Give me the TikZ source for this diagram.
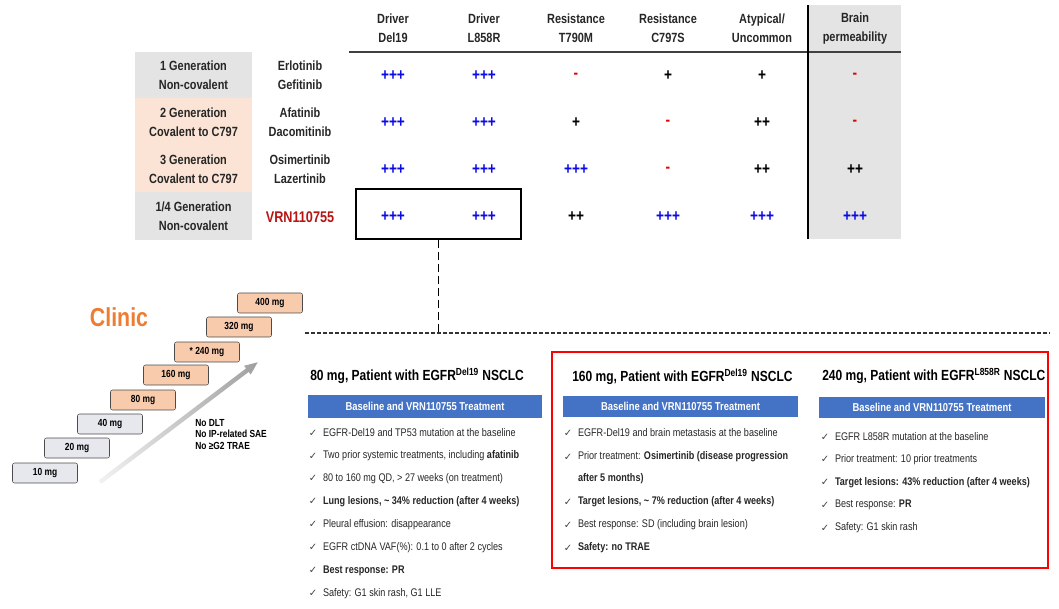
\documentclass[tikz,border=0pt]{standalone}
\usepackage{fontspec}
\setmainfont{Liberation Sans}[FakeStretch=0.82]
\newfontfamily\symfont{DejaVu Sans}
\usetikzlibrary{arrows.meta}
\usetikzlibrary{positioning}
\definecolor{mblue}{HTML}{0A0AE6}
\definecolor{mred}{HTML}{E60000}
\definecolor{vred}{HTML}{B81414}
\definecolor{mgray}{HTML}{E4E4E4}
\definecolor{mpeach}{HTML}{FBE4D5}
\definecolor{mstep}{HTML}{F8CBAD}
\definecolor{mstepgray}{HTML}{E6E8EE}
\definecolor{morange}{HTML}{EC7D32}
\definecolor{mbar}{HTML}{4472C4}
\newcommand{\tick}{{\symfont ✓}}

\tikzset{
  hdr/.style={font=\bfseries\fontsize{10}{14}\selectfont, align=center, inner sep=0, text=black!85},
  effthree/.style={font=\bfseries\fontsize{12.5}{14}\selectfont, text=mblue, inner sep=0, node contents={+++}},
  efftwo/.style={font=\bfseries\fontsize{12.5}{14}\selectfont, text=black, inner sep=0, node contents={++}},
  effone/.style={font=\bfseries\fontsize{12.5}{14}\selectfont, text=black, inner sep=0, node contents={+}},
  effnone/.style={font=\bfseries\fontsize{12.5}{14}\selectfont, text=mred, inner sep=0, node contents={-}},
  dose/.style={draw=gray!60!black, rounded corners=1.5pt, minimum width=48.75pt, minimum height=15pt,
    inner sep=0, font=\bfseries\fontsize{7.7}{9}\selectfont},
  dosegray/.style={dose, fill=mstepgray},
  dosepeach/.style={dose, fill=mstep},
  ptitle/.style={font=\bfseries\fontsize{11}{13}\selectfont, anchor=west, inner sep=0},
  pbar/.style={fill=mbar, text=white, font=\bfseries\fontsize{8.6}{10}\selectfont, minimum height=15.75pt, inner sep=0},
  tickmark/.style={font=\fontsize{7.5}{9}\selectfont, text=black!75, inner sep=0},
  item/.style={font=\fontsize{8.3}{10}\selectfont, text=black!85, inner sep=0}
}

\begin{document}
\begin{tikzpicture}[x=0.75pt, y=-0.75pt]
      \useasboundingbox (0,0) rectangle (1059,609);

      \fill [mgray] (135,52) rectangle (252,98);
      \fill [mpeach] (135,98) rectangle (252,192);
      \fill [mgray] (135,192) rectangle (252,240);
      \fill [mgray] (808,5) rectangle (901,239);
      \draw [line width=1.5pt, black!75] (349,52) -- (901,52);
      \draw [line width=0.8pt] (808,5) -- (808,239);

      \node [hdr] (hdel) at (393,28.5) {Driver\\Del19};
      \node [hdr] (hlr) at (484,28.5) {Driver\\L858R};
      \node [hdr] (htm) at (576,28.5) {Resistance\\T790M};
      \node [hdr] (hcs) at (668,28.5) {Resistance\\C797S};
      \node [hdr] (hat) at (762,28.5) {Atypical/\\Uncommon};
      \node [hdr] (hbr) at (855,28.5) {Brain\\permeability};

      \node [hdr] (gen1) at (193.5,75) {1 Generation\\Non-covalent};
      \node [hdr] (gen2) at (193.5,122) {2 Generation\\Covalent to C797};
      \node [hdr] (gen3) at (193.5,169) {3 Generation\\Covalent to C797};
      \node [hdr] (gen4) at (193.5,216) {1/4 Generation\\Non-covalent};

      \node [hdr] (drug1) at (300,75) {Erlotinib\\Gefitinib};
      \node [hdr] (drug2) at (300,122) {Afatinib\\Dacomitinib};
      \node [hdr] (drug3) at (300,169) {Osimertinib\\Lazertinib};
      \node [hdr, text=vred, font=\bfseries\fontsize{11.6}{14}\selectfont] (drug4) at (300,217) {VRN110755};

      \foreach \x/\s [count=\c] in {393/effthree, 484/effthree, 576/effnone, 668/effone, 762/effone, 855/effnone}
        \node (ra\c) at (\x,76) [\s];
      \foreach \x/\s [count=\c] in {393/effthree, 484/effthree, 576/effone, 668/effnone, 762/efftwo, 855/effnone}
        \node (rb\c) at (\x,123) [\s];
      \foreach \x/\s [count=\c] in {393/effthree, 484/effthree, 576/effthree, 668/effnone, 762/efftwo, 855/efftwo}
        \node (rc\c) at (\x,170) [\s];
      \foreach \x/\s [count=\c] in {393/effthree, 484/effthree, 576/efftwo, 668/effthree, 762/effthree, 855/effthree}
        \node (rd\c) at (\x,217) [\s];

      \node [draw, line width=1.2pt, minimum width=123.75pt, minimum height=37.5pt, inner sep=0] (vrnbox) at (438.5,214) {};
      \coordinate (dashl) at (305,333);
      \coordinate (dashr) at (1050,333);
      \coordinate (split) at (vrnbox.south |- dashl);
      \draw [dash pattern=on 6pt off 3pt, line width=0.8pt] (vrnbox.south) -- (split);
      \draw [dash pattern=on 3pt off 1.5pt, line width=0.8pt, black!80] (dashl) -- (dashr);

      \node [font=\bfseries\fontsize{19.5}{22}\selectfont, text=morange] (clinic) at (119,317) {Clinic};

      \begin{scope}[shift={(100,482)}, rotate=37.2]
        \shade [left color=gray!10, right color=gray!75] (0,-2.2) -- (185,-2.2) -- (185,-5.5) -- (198,0)
          -- (185,5.5) -- (185,2.2) -- (0,2.2) -- cycle;
      \end{scope}

      \foreach \d/\x/\y/\s [count=\k] in {10 mg/45/473/dosegray, 20 mg/77/448/dosegray, 40 mg/110/424/dosegray,
          80 mg/143/400/dosepeach, 160 mg/176/375/dosepeach, * 240 mg/207/352/dosepeach,
          320 mg/239/327/dosepeach, 400 mg/270/303/dosepeach}
        \node [\s] (step\k) at (\x,\y) {\d};

      \node [anchor=north west, align=left, inner sep=0, font=\bfseries\fontsize{7.7}{8.6}\selectfont] (safety) at (195,419)
        {No DLT\\No IP-related SAE\\No ≥G2 TRAE};

      \node [ptitle] (pta) at (310,376) {80 mg, Patient with EGFR\textsuperscript{Del19} NSCLC};
      \node [pbar, minimum width=175.5pt, minimum height=17.25pt] (bara) at (425,406.5) {Baseline and VRN110755 Treatment};
      \foreach \t [count=\i] in {{EGFR-Del19 and TP53 mutation at the baseline},
          {Two prior systemic treatments, including \textbf{afatinib}},
          {80 to 160 mg QD, > 27 weeks (on treatment)},
          {\textbf{Lung lesions, \textasciitilde{} 34\% reduction (after 4 weeks)}},
          {Pleural effusion: disappearance},
          {EGFR ctDNA VAF(\%): 0.1 to 0 after 2 cycles},
          {\textbf{Best response: PR}},
          {Safety: G1 skin rash, G1 LLE}} {
        \node [tickmark] (ta\i) at (313,{433+22.9*(\i-1)}) {\tick};
        \node [item, right=4pt of ta\i] (ia\i) {\t};
      }

      \draw [red, line width=1.5pt] (552,352) rectangle (1048,568);

      \node [ptitle] (ptb) at (572,377) {160 mg, Patient with EGFR\textsuperscript{Del19} NSCLC};
      \node [pbar, minimum width=176.25pt] (barb) at (680.5,406) {Baseline and VRN110755 Treatment};
      \foreach \y/\t [count=\i] in {433/{EGFR-Del19 and brain metastasis at the baseline},
          457/{Prior treatment: \textbf{Osimertinib (disease progression}},
          502/{\textbf{Target lesions, \textasciitilde{} 7\% reduction (after 4 weeks)}},
          525/{Best response: SD (including brain lesion)},
          548/{\textbf{Safety: no TRAE}}} {
        \node [tickmark] (tb\i) at (568,\y) {\tick};
        \node [item, right=4pt of tb\i] (ib\i) {\t};
      }
      \node [item, anchor=west, font=\bfseries\fontsize{8.3}{10}\selectfont] (ibx) at (ib2.west |- 0,479) {after 5 months)};

      \node [ptitle] (ptc) at (822,376) {240 mg, Patient with EGFR\textsuperscript{L858R} NSCLC};
      \node [pbar, minimum width=169.5pt] (barc) at (932,407.5) {Baseline and VRN110755 Treatment};
      \foreach \t [count=\i] in {{EGFR L858R mutation at the baseline},
          {Prior treatment: 10 prior treatments},
          {\textbf{Target lesions: 43\% reduction (after 4 weeks)}},
          {Best response: \textbf{PR}},
          {Safety: G1 skin rash}} {
        \node [tickmark] (tc\i) at (825,{437+22.75*(\i-1)}) {\tick};
        \node [item, right=4pt of tc\i] (ic\i) {\t};
      }
    \end{tikzpicture}
\end{document}
